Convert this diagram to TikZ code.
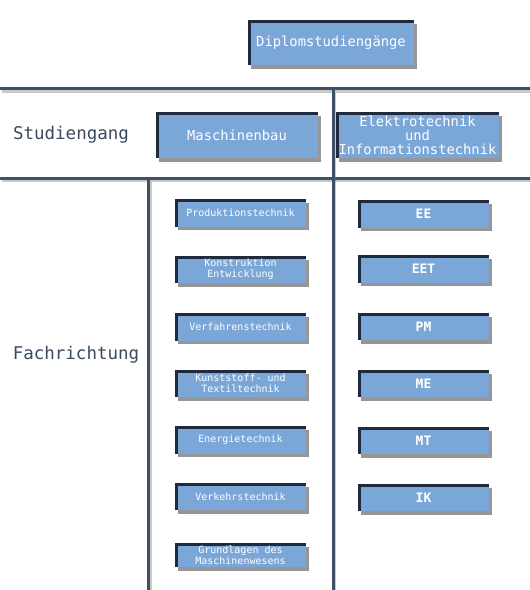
\documentclass[tikz,border=0pt]{standalone}
\usepackage{fontspec}
\newfontfamily\boxfont{DejaVu Sans Mono}
\usepackage{tikz}
\usetikzlibrary{positioning,shadows}
\definecolor{boxblue}{HTML}{7BA6D8}
\definecolor{edge}{HTML}{1F2B3C}
\definecolor{rulec}{HTML}{3E5068}
\definecolor{labelc}{HTML}{3A4A5E}

\begin{document}
\begin{tikzpicture}[x=1pt,y=-1pt,
  tile/.style={fill=boxblue,text=white,align=center,inner sep=0pt,
    font=\boxfont\fontsize{10}{11}\selectfont,
    minimum width=131pt,minimum height=27pt,
    drop shadow={shadow xshift=3pt,shadow yshift=-3.5pt,opacity=0.55,fill=black!75},
    path picture={\draw[edge,line width=5pt]
      (path picture bounding box.south west) -- (path picture bounding box.north west)
      -- (path picture bounding box.north east);}},
  bigtile/.style={tile,font=\boxfont\fontsize{13.8}{14}\selectfont},
  shorttile/.style={tile,font=\boxfont\bfseries\fontsize{13}{14}\selectfont},
  rowlabel/.style={text=labelc,font=\boxfont\fontsize{17.5}{20}\selectfont,inner sep=0pt},
  sep/.style={fill=rulec,drop shadow={shadow xshift=1.5pt,shadow yshift=-2.5pt,opacity=0.35,fill=black!60}}]
  \useasboundingbox[fill=white] (0,0) rectangle (530,590);

  % separating rules
  \fill[sep] (0,87) rectangle (530,90);
  \fill[sep] (0,176.5) rectangle (530,179.5);
  \fill[sep] (332,90) rectangle (334.5,590);
  \fill[sep] (147,179.5) rectangle (150,590);

  % top level
  \node[bigtile,minimum width=166pt,minimum height=45pt] (diplom) at (331,42.5) {Diplomstudiengänge};

  % Studiengang row
  \node[rowlabel] (studiengang) at (71,135) {Studiengang};
  \node[bigtile,minimum width=162pt,minimum height=46pt] (mb) at (237,135) {Maschinenbau};
  \node[bigtile,minimum width=163pt,minimum height=46pt] (et) at (417.5,135)
    {Elektrotechnik\\und\\Informationstechnik};

  % Fachrichtung row
  \node[rowlabel] (fachrichtung) at (76,355) {Fachrichtung};
  \foreach \n/\y/\t in {mb1/213/Produktionstechnik,
                        mb2/269.5/{Konstruktion\\Entwicklung},
                        mb3/327/Verfahrenstechnik,
                        mb4/383.5/{Kunststoff- und\\Textiltechnik},
                        mb5/440/Energietechnik,
                        mb6/496.5/Verkehrstechnik}
    {\node[tile] (\n) at (240.5,\y) {\t};}
  \node[tile,minimum height=24pt] (mb7) at (240.5,555) {Grundlagen des\\Maschinenwesens};
  \foreach \n/\y/\t in {et1/214/EE,et2/269/EET,et3/326.5/PM,
                        et4/383.5/ME,et5/440.5/MT,et6/497.5/IK}
    {\node[shorttile] (\n) at (423.5,\y) {\t};}
\end{tikzpicture}
\end{document}
